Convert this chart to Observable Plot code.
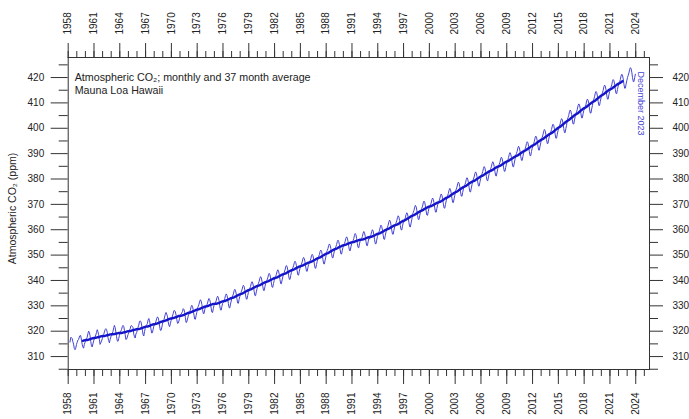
<!DOCTYPE html>
<html><head><meta charset="utf-8">
<script src="https://cdn.jsdelivr.net/npm/d3@7"></script>
<script src="https://cdn.jsdelivr.net/npm/@observablehq/plot@0.6"></script>
<style>body{margin:0;background:#fff;} svg{display:block;}</style>
</head><body><div id="chart"></div>
<script>
// Mauna Loa monthly CO2 (ppm), rows = years from firstYear, Jan..Dec
const firstYear = 1958;
const co2Monthly = [
  [null, null, 315.7, 317.5, 317.5, 317.1, 315.9, 314.9, 313.2, 312.7, 313.3, 314.7],
  [315.6, 316.5, 316.7, 317.7, 318.3, 318.2, 316.5, 314.8, 313.8, 313.3, 314.8, 315.6],
  [316.4, 317.0, 317.6, 319.0, 320.0, 319.6, 318.2, 315.9, 314.2, 313.8, 315.0, 316.2],
  [316.9, 317.7, 318.5, 319.5, 320.6, 319.8, 318.6, 316.8, 314.8, 315.4, 316.1, 317.0],
  [317.9, 318.6, 319.7, 320.6, 321.0, 320.6, 319.6, 317.4, 316.3, 315.4, 316.7, 317.7],
  [318.7, 319.1, 319.9, 321.4, 322.3, 321.5, 319.7, 317.8, 316.2, 316.0, 317.1, 318.4],
  [319.6, 320.0, 320.7, 321.8, 322.3, 321.9, 320.4, 318.7, 316.7, 316.9, 317.7, 318.7],
  [319.4, 320.4, 320.9, 322.1, 322.2, 321.9, 321.4, 318.8, 317.8, 317.3, 318.9, 319.4],
  [320.6, 321.6, 322.4, 323.9, 324.0, 323.8, 322.4, 320.4, 318.6, 318.1, 319.8, 321.1],
  [322.1, 322.5, 323.0, 324.4, 325.0, 324.1, 322.5, 320.9, 319.3, 319.4, 320.7, 322.0],
  [322.6, 323.2, 323.9, 325.0, 325.6, 325.4, 324.1, 322.0, 320.4, 320.3, 321.3, 322.8],
  [324.0, 324.4, 325.6, 326.7, 327.4, 326.7, 325.9, 323.7, 322.4, 321.8, 322.9, 324.1],
  [325.0, 326.0, 326.9, 328.1, 328.1, 327.7, 326.4, 324.7, 323.1, 323.2, 324.0, 325.1],
  [326.2, 326.7, 327.2, 327.8, 328.9, 328.6, 327.4, 325.4, 323.4, 323.6, 324.8, 326.0],
  [326.8, 327.6, 328.4, 329.6, 330.2, 329.7, 328.4, 326.4, 324.8, 324.7, 326.2, 327.4],
  [329.0, 329.8, 330.6, 331.8, 332.4, 331.9, 330.6, 328.6, 327.0, 326.9, 328.4, 329.6],
  [329.5, 330.3, 331.1, 332.3, 332.9, 332.4, 331.1, 329.1, 327.5, 327.4, 328.9, 330.1],
  [330.4, 331.2, 332.0, 333.2, 333.8, 333.3, 332.0, 330.0, 328.4, 328.3, 329.8, 331.0],
  [331.3, 332.1, 332.9, 334.1, 334.7, 334.2, 332.9, 330.9, 329.3, 329.2, 330.7, 331.9],
  [333.1, 333.9, 334.7, 335.9, 336.5, 336.0, 334.7, 332.7, 331.1, 331.0, 332.5, 333.7],
  [334.7, 335.5, 336.3, 337.5, 338.1, 337.6, 336.3, 334.3, 332.7, 332.6, 334.1, 335.3],
  [336.1, 336.9, 337.7, 338.9, 339.5, 339.0, 337.7, 335.7, 334.1, 334.0, 335.5, 336.7],
  [338.1, 338.9, 339.7, 340.9, 341.5, 341.0, 339.7, 337.7, 336.1, 336.0, 337.5, 338.7],
  [339.4, 340.2, 341.0, 342.2, 342.8, 342.3, 341.0, 339.0, 337.4, 337.3, 338.8, 340.0],
  [340.8, 341.6, 342.4, 343.6, 344.2, 343.7, 342.4, 340.4, 338.8, 338.7, 340.2, 341.4],
  [342.5, 343.3, 344.1, 345.3, 345.9, 345.4, 344.1, 342.1, 340.5, 340.4, 341.9, 343.1],
  [344.2, 345.0, 345.8, 347.0, 347.6, 347.1, 345.8, 343.8, 342.2, 342.1, 343.6, 344.8],
  [345.7, 346.5, 347.3, 348.5, 349.1, 348.6, 347.3, 345.3, 343.7, 343.6, 345.1, 346.3],
  [346.9, 347.7, 348.5, 349.7, 350.3, 349.8, 348.5, 346.5, 344.9, 344.8, 346.3, 347.5],
  [348.6, 349.4, 350.2, 351.4, 352.0, 351.5, 350.2, 348.2, 346.6, 346.5, 348.0, 349.2],
  [351.0, 351.8, 352.6, 353.8, 354.4, 353.9, 352.6, 350.6, 349.0, 348.9, 350.4, 351.6],
  [352.5, 353.3, 354.1, 355.3, 355.9, 355.4, 354.1, 352.1, 350.5, 350.4, 351.9, 353.1],
  [353.8, 354.6, 355.4, 356.6, 357.2, 356.7, 355.4, 353.4, 351.8, 351.7, 353.2, 354.4],
  [354.8, 355.7, 356.5, 357.8, 358.5, 358.0, 356.6, 354.6, 353.0, 352.9, 354.4, 355.8],
  [355.6, 356.5, 357.3, 358.6, 359.3, 358.8, 357.4, 355.4, 353.8, 353.7, 355.2, 356.6],
  [356.3, 357.2, 358.0, 359.3, 360.0, 359.5, 358.1, 356.1, 354.5, 354.4, 355.9, 357.3],
  [358.1, 359.0, 359.8, 361.1, 361.8, 361.3, 359.9, 357.9, 356.3, 356.2, 357.7, 359.1],
  [360.1, 361.0, 361.8, 363.1, 363.8, 363.3, 361.9, 359.9, 358.3, 358.2, 359.7, 361.1],
  [361.8, 362.7, 363.5, 364.8, 365.5, 365.0, 363.6, 361.6, 360.0, 359.9, 361.4, 362.8],
  [363.0, 363.9, 364.7, 366.0, 366.7, 366.2, 364.8, 362.8, 361.2, 361.1, 362.6, 364.0],
  [365.9, 366.8, 367.6, 368.9, 369.6, 369.1, 367.7, 365.7, 364.1, 364.0, 365.5, 366.9],
  [367.6, 368.5, 369.3, 370.6, 371.3, 370.8, 369.4, 367.4, 365.8, 365.7, 367.2, 368.6],
  [368.8, 369.7, 370.5, 371.8, 372.5, 372.0, 370.6, 368.6, 367.0, 366.9, 368.4, 369.8],
  [370.4, 371.3, 372.1, 373.4, 374.1, 373.6, 372.2, 370.2, 368.6, 368.5, 370.0, 371.4],
  [372.6, 373.5, 374.3, 375.6, 376.3, 375.8, 374.4, 372.4, 370.8, 370.7, 372.2, 373.6],
  [375.1, 376.0, 376.8, 378.1, 378.8, 378.3, 376.9, 374.9, 373.3, 373.2, 374.7, 376.1],
  [376.8, 377.7, 378.5, 379.8, 380.5, 380.0, 378.6, 376.6, 375.0, 374.9, 376.4, 377.8],
  [379.1, 380.0, 380.8, 382.1, 382.8, 382.3, 380.9, 378.9, 377.3, 377.2, 378.7, 380.1],
  [381.2, 382.1, 382.9, 384.2, 384.9, 384.4, 383.0, 381.0, 379.4, 379.3, 380.8, 382.2],
  [383.1, 384.0, 384.8, 386.1, 386.8, 386.3, 384.9, 382.9, 381.3, 381.2, 382.7, 384.1],
  [384.9, 385.8, 386.6, 387.9, 388.6, 388.1, 386.7, 384.7, 383.1, 383.0, 384.5, 385.9],
  [386.7, 387.6, 388.4, 389.7, 390.4, 389.9, 388.5, 386.5, 384.9, 384.8, 386.3, 387.7],
  [389.2, 390.1, 390.9, 392.2, 392.9, 392.4, 391.0, 389.0, 387.4, 387.3, 388.8, 390.2],
  [390.8, 391.7, 392.6, 394.0, 394.7, 394.3, 392.9, 390.8, 389.2, 389.2, 390.8, 392.1],
  [393.0, 393.9, 394.8, 396.2, 396.9, 396.5, 395.1, 393.0, 391.4, 391.4, 393.0, 394.3],
  [395.6, 396.5, 397.4, 398.8, 399.5, 399.1, 397.7, 395.6, 394.0, 394.0, 395.6, 396.9],
  [397.7, 398.6, 399.5, 400.9, 401.6, 401.2, 399.8, 397.7, 396.1, 396.1, 397.7, 399.0],
  [399.9, 400.8, 401.7, 403.1, 403.8, 403.4, 402.0, 399.9, 398.3, 398.3, 399.9, 401.2],
  [403.3, 404.2, 405.1, 406.5, 407.2, 406.8, 405.4, 403.3, 401.7, 401.7, 403.3, 404.6],
  [405.7, 406.6, 407.5, 408.9, 409.6, 409.2, 407.8, 405.7, 404.1, 404.1, 405.7, 407.0],
  [407.6, 408.5, 409.4, 410.8, 411.5, 411.1, 409.7, 407.6, 406.0, 406.0, 407.6, 408.9],
  [410.6, 411.5, 412.4, 413.8, 414.5, 414.1, 412.7, 410.6, 409.0, 409.0, 410.6, 411.9],
  [413.1, 414.0, 414.9, 416.3, 417.0, 416.6, 415.2, 413.1, 411.5, 411.5, 413.1, 414.4],
  [415.3, 416.2, 417.1, 418.5, 419.2, 418.8, 417.4, 415.3, 413.7, 413.7, 415.3, 416.6],
  [417.4, 418.3, 419.2, 420.6, 421.3, 420.9, 419.5, 417.4, 415.8, 415.8, 417.4, 418.7],
  [420.0, 420.9, 421.8, 423.2, 423.9, 423.5, 422.1, 420.0, 418.4, 418.4, 420.0, 421.3]
];
const averageMonths = 37;

// Tick values and labels
const yearMajor = [1958, 1961, 1964, 1967, 1970, 1973, 1976, 1979, 1982, 1985, 1988, 1991, 1994, 1997, 2000, 2003, 2006, 2009, 2012, 2015, 2018, 2021, 2024];
const yearMinor = d3.range(1958, 2026);
const ppmMajor = [310, 320, 330, 340, 350, 360, 370, 380, 390, 400, 410, 420];
const ppmMinor = [305, 315, 325, 335, 345, 355, 365, 375, 385, 395, 405, 415, 425];

const titleLines = ["Atmospheric CO\u2082; monthly and 37 month average", "Mauna Loa Hawaii"];
const yTitle = ["Atmospheric CO\u2082 (ppm)"];
const lastLabel = ["December 2023"];

const data = co2Monthly.flatMap((row, i) => row.map((v, m) => ({t: firstYear + i + (m + 0.5) / 12, v})))
  .filter(d => d.v != null);

const ink = "#333";
const thin = "#4444d6";
const thick = "#1414c8";
const blank = () => "";

const chart = Plot.plot({
  width: 689, height: 419,
  marginLeft: 67.7, marginRight: 40, marginTop: 57, marginBottom: 50,
  style: {fontFamily: "'Liberation Sans', Arial, sans-serif", fontSize: "10px", color: "#222", background: "#fff", overflow: "visible"},
  x: {domain: [1958, 2025.6]},
  y: {domain: [304.9, 427.9]},
  marks: [
    Plot.frame({stroke: ink}),
    // bottom axis
    Plot.axisX({anchor: "bottom", ticks: yearMinor, tickSize: 7, tickFormat: blank, label: null, stroke: ink}),
    Plot.axisX({anchor: "bottom", ticks: yearMajor, tickSize: 15, tickPadding: 8, tickRotate: -90, tickFormat: d => String(d), label: null, stroke: ink}),
    // top axis
    Plot.axisX({anchor: "top", ticks: yearMinor, tickSize: 7, tickFormat: blank, label: null, stroke: ink}),
    Plot.axisX({anchor: "top", ticks: yearMajor, tickSize: 15, tickPadding: 8, tickRotate: -90, tickFormat: d => String(d), label: null, stroke: ink}),
    // left axis
    Plot.axisY({anchor: "left", ticks: ppmMinor, tickSize: 9, tickFormat: blank, label: null, stroke: ink}),
    Plot.axisY({anchor: "left", ticks: ppmMajor, tickSize: 17, tickPadding: 7, tickFormat: d => String(d), label: null, stroke: ink}),
    // right axis
    Plot.axisY({anchor: "right", ticks: ppmMinor, tickSize: 8, tickFormat: blank, label: null, stroke: ink}),
    Plot.axisY({anchor: "right", ticks: ppmMajor, tickSize: 13, tickPadding: 10, tickFormat: d => String(d), label: null, stroke: ink}),
    // monthly series
    Plot.line(data, {x: "t", y: "v", stroke: thin, strokeWidth: 1}),
    // 37 month running average
    Plot.line(data, Plot.windowY({k: averageMonths, reduce: "mean", strict: true}, {x: "t", y: "v", stroke: thick, strokeWidth: 2.4})),
    // texts
    Plot.text([titleLines[0]], {text: d => d, frameAnchor: "top-left", dx: 6.5, dy: 20, textAnchor: "start", lineAnchor: "middle", fontSize: 10.7, fill: "#222"}),
    Plot.text([titleLines[1]], {text: d => d, frameAnchor: "top-left", dx: 6.5, dy: 33, textAnchor: "start", lineAnchor: "middle", fontSize: 10.7, fill: "#222"}),
    Plot.text(yTitle, {text: d => d, frameAnchor: "left", dx: -56, dy: -5, rotate: -90, textAnchor: "middle", lineAnchor: "middle", fontSize: 10.5, fill: "#222"}),
    Plot.text(lastLabel, {text: d => d, frameAnchor: "top-right", dx: -9, dy: 46, rotate: 90, textAnchor: "middle", lineAnchor: "middle", fontSize: 9, fill: thin})
  ]
});
document.getElementById("chart").append(chart);
</script>
</body></html>
